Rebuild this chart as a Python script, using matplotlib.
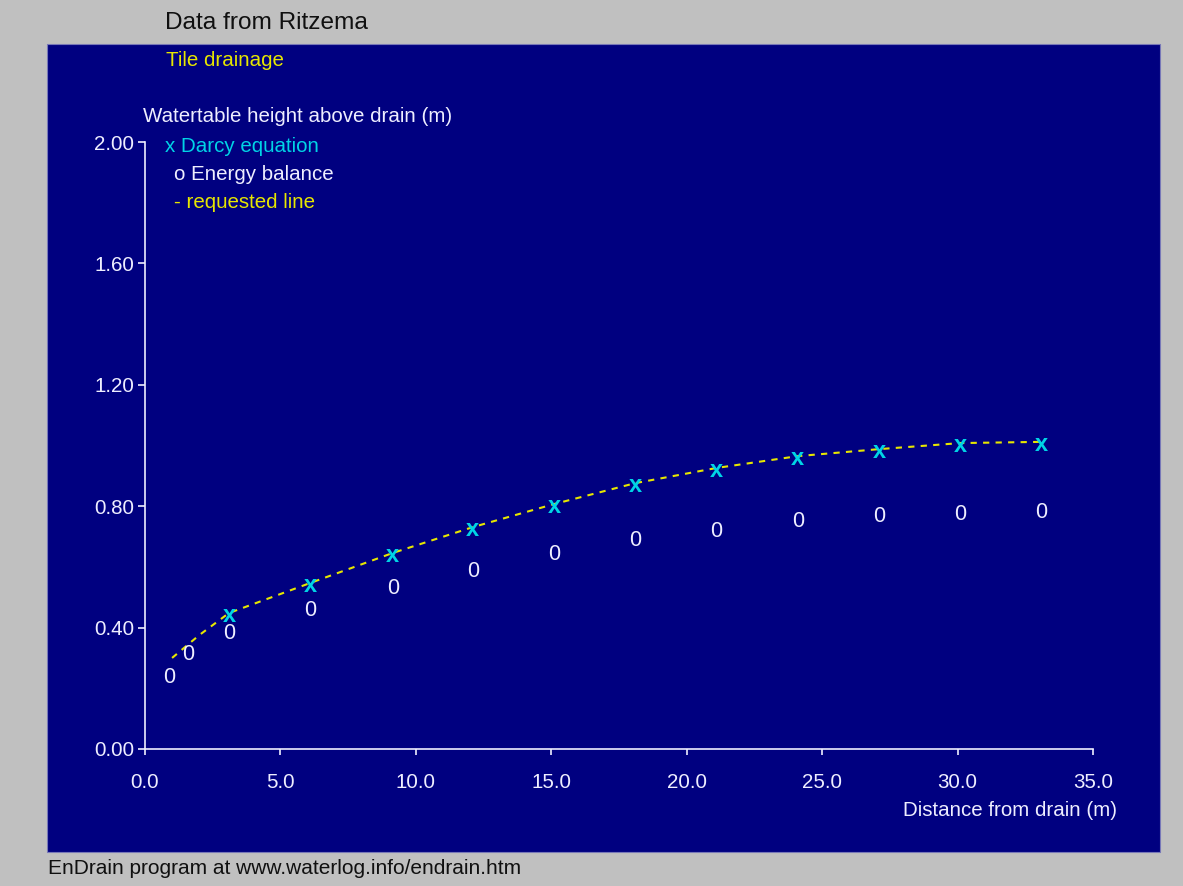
import matplotlib
matplotlib.use("Agg")
import matplotlib.pyplot as plt
from matplotlib.patches import Rectangle

plt.rcParams['font.family'] = ['Liberation Sans', 'DejaVu Sans']

# Distance from drain (m)
darcy_x = [3.1, 6.1, 9.15, 12.1, 15.1, 18.1, 21.1, 24.1, 27.1, 30.1, 33.1]
darcy_y = [0.448, 0.547, 0.646, 0.731, 0.807, 0.876, 0.926, 0.965, 0.988, 1.008, 1.012]

energy_x = [0.9, 1.6, 3.1, 6.1, 9.15, 12.1, 15.1, 18.1, 21.1, 24.1, 27.1, 30.1, 33.1]
energy_y = [0.244, 0.320, 0.389, 0.465, 0.537, 0.593, 0.649, 0.695, 0.725, 0.758, 0.774, 0.781, 0.787]

line_x = [1.0, 2.0, 3.1, 6.1, 9.15, 12.1, 15.1, 18.1, 21.1, 24.1, 27.1, 30.1, 33.1]
line_y = [0.30, 0.375, 0.448, 0.547, 0.646, 0.731, 0.807, 0.876, 0.926, 0.965, 0.988, 1.008, 1.012]

x_ticks = [0, 5, 10, 15, 20, 25, 30, 35]
y_ticks = [0.0, 0.4, 0.8, 1.2, 1.6, 2.0]

NAVY = '#000080'
GREY = '#c0c0c0'
CYAN = '#00d4e6'
YELLOW = '#e6e600'
WHITE = '#eeeeff'
FS = 14.8

W, H = 1183, 886
fig = plt.figure(figsize=(W / 100, H / 100), dpi=100)
fig.patch.set_facecolor(GREY)

# navy plotting panel
fig.add_artist(Rectangle((47 / W, 1 - 852 / H), (1160 - 47) / W, (852 - 44) / H,
                         transform=fig.transFigure, facecolor=NAVY,
                         edgecolor='#7878b8', linewidth=0.8, zorder=0))

ax = fig.add_axes([145 / W, 1 - 749 / H, (1093 - 145) / W, (749 - 142) / H])
ax.set_facecolor('none')
ax.set_xlim(0, 35)
ax.set_ylim(0, 2.0)
for s in ('top', 'right'):
    ax.spines[s].set_visible(False)
for s in ('left', 'bottom'):
    ax.spines[s].set_color(WHITE)
    ax.spines[s].set_linewidth(1.2)

ax.set_xticks(x_ticks)
ax.set_xticklabels([f"{v:.1f}" for v in x_ticks])
ax.set_yticks(y_ticks)
ax.set_yticklabels([f"{v:.2f}" for v in y_ticks])
ax.tick_params(axis='both', colors=WHITE, labelsize=FS, width=1.2, direction='out')
ax.tick_params(axis='y', length=5, pad=3)
ax.tick_params(axis='x', length=4, pad=13)

# requested line
ax.plot(line_x, line_y, color=YELLOW, lw=1.5, ls=(0, (3, 3)), zorder=2)

# Darcy equation points
for x, y in zip(darcy_x, darcy_y):
    ax.text(x, y, 'x', color=CYAN, fontsize=17, fontweight='bold',
            ha='center', va='center_baseline', zorder=3)

# Energy balance points
for x, y in zip(energy_x, energy_y):
    ax.text(x, y, '0', color=WHITE, fontsize=15.5,
            ha='center', va='center_baseline', zorder=3)

fig.text(1117 / W, 1 - 810 / H, 'Distance from drain (m)', color=WHITE,
         fontsize=FS, ha='right', va='center')

fig.text(165 / W, 1 - 23 / H, 'Data from Ritzema', color='#101010',
         fontsize=17.6, ha='left', va='center')
fig.text(166 / W, 1 - 60 / H, 'Tile drainage', color=YELLOW,
         fontsize=FS, ha='left', va='center')
fig.text(143 / W, 1 - 117 / H, 'Watertable height above drain (m)', color=WHITE,
         fontsize=FS, ha='left', va='center')
fig.text(165 / W, 1 - 146 / H, 'x Darcy equation', color=CYAN,
         fontsize=FS, ha='left', va='center')
fig.text(174 / W, 1 - 174 / H, 'o Energy balance', color=WHITE,
         fontsize=FS, ha='left', va='center')
fig.text(174 / W, 1 - 202 / H, '- requested line', color=YELLOW,
         fontsize=FS, ha='left', va='center')

fig.text(48 / W, 1 - 868 / H, 'EnDrain program at www.waterlog.info/endrain.htm',
         color='#101010', fontsize=15, ha='left', va='center')

fig.savefig('out.png', dpi=100, facecolor=GREY)
